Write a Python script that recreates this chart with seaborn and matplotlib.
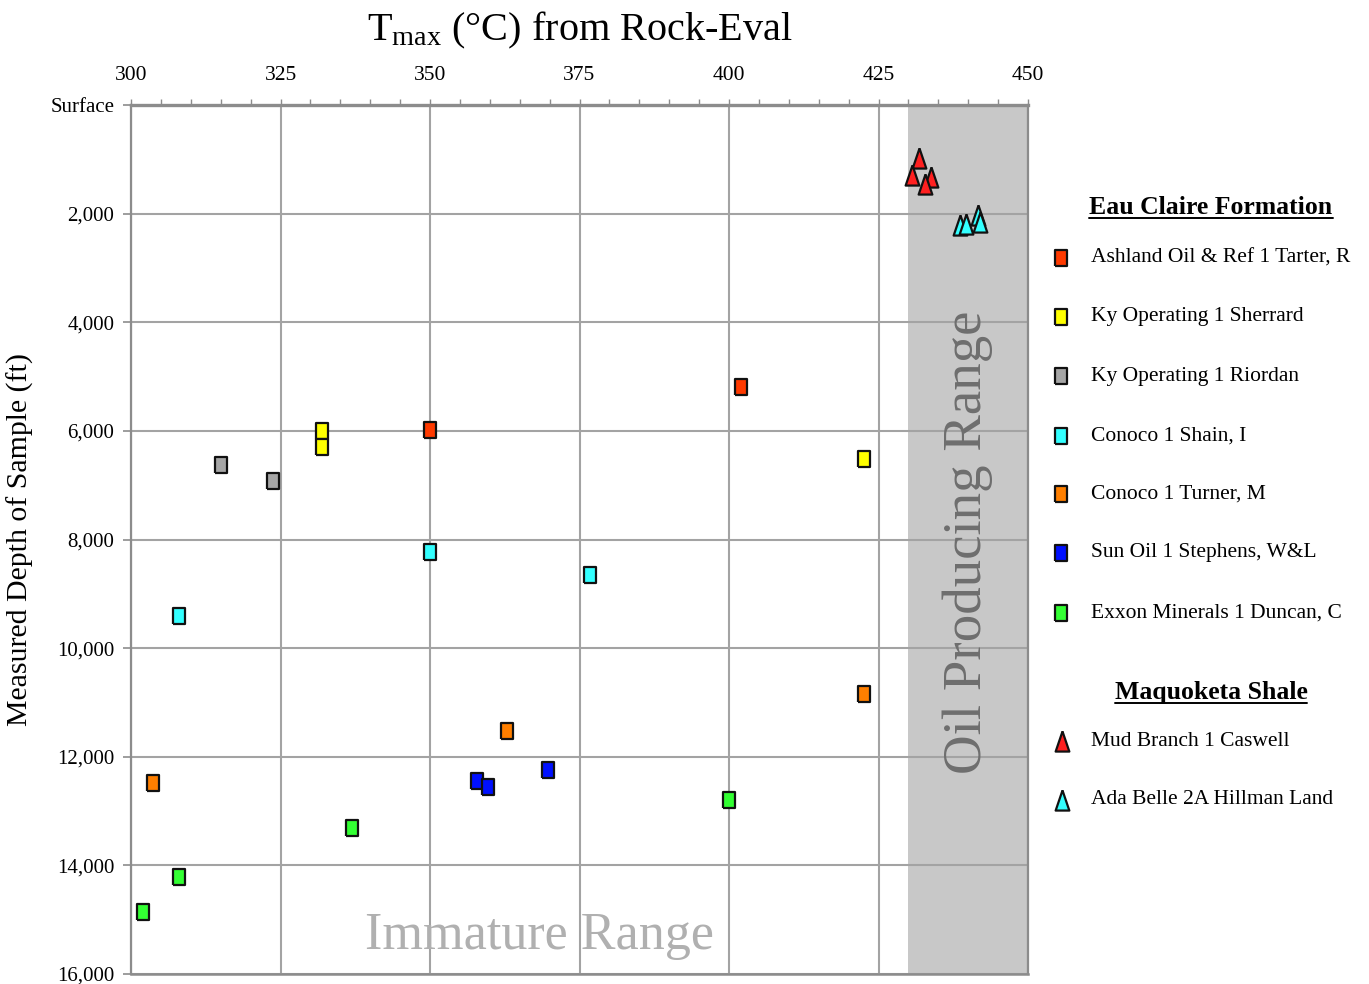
import numpy as np
import pandas as pd
import matplotlib
matplotlib.use("Agg")
import matplotlib.pyplot as plt
from matplotlib.lines import Line2D
from matplotlib.ticker import FixedLocator, MultipleLocator, FuncFormatter
import seaborn as sns

# ---- data: Tmax (deg C) vs. measured depth (ft) ----
ashland_tmax = [350.0, 402.0]
ashland_depth = [5990, 5200]
sherrard_tmax = [332.0, 332.0, 422.6]
sherrard_depth = [5995, 6290, 6515]
riordan_tmax = [315.0, 323.7]
riordan_depth = [6620, 6930]
shain_tmax = [308.0, 350.0, 376.7]
shain_depth = [9410, 8235, 8655]
turner_tmax = [303.7, 362.9, 422.6]
turner_depth = [12480, 11520, 10845]
sun_tmax = [357.8, 359.7, 369.7]
sun_depth = [12440, 12550, 12250]
duncan_tmax = [302.0, 308.0, 337.0, 400.0]
duncan_depth = [14865, 14210, 13305, 12800]
mud_tmax = [431.7, 430.6, 433.8, 432.7]
mud_depth = [970, 1290, 1330, 1450]
ada_tmax = [438.7, 439.7, 441.7, 442.0]
ada_depth = [2210, 2200, 2025, 2150]

eau_claire_wells = ["Ashland Oil & Ref 1 Tarter, R", "Ky Operating 1 Sherrard",
                    "Ky Operating 1 Riordan", "Conoco 1 Shain, I", "Conoco 1 Turner, M",
                    "Sun Oil 1 Stephens, W&L", "Exxon Minerals 1 Duncan, C"]
maquoketa_wells = ["Mud Branch 1 Caswell", "Ada Belle 2A Hillman Land"]

x_ticks = [300, 325, 350, 375, 400, 425, 450]
y_ticks = [0, 2000, 4000, 6000, 8000, 10000, 12000, 14000, 16000]
oil_window = (430, 450)

# ---- styles ----
sq_colors = ["#ff3a00", "#ffff00", "#a6a6a6", "#33ffff", "#ff7f00", "#0010ff", "#33ff33"]
tri_colors = ["#ff2020", "#33ffff"]
rect_marker = [(-0.7, -1), (0.7, -1), (0.7, 1), (-0.7, 1), (-0.7, -1)]
tri_marker = [(0, 1), (-0.68, -1), (0.68, -1), (0, 1)]
GRID = "#a3a3a3"
SPINE = "#8c8c8c"

sns.set_style("white")
plt.rcParams["font.family"] = ["Liberation Serif", "DejaVu Serif"]
plt.rcParams["mathtext.fontset"] = "custom"
plt.rcParams["mathtext.rm"] = "Liberation Serif"
plt.rcParams["mathtext.it"] = "Liberation Serif:italic"
plt.rcParams["text.color"] = "black"
plt.rcParams["axes.labelcolor"] = "black"
plt.rcParams["xtick.labelcolor"] = "black"
plt.rcParams["ytick.labelcolor"] = "black"

W, H = 1369, 984
fig = plt.figure(figsize=(W / 100, H / 100), dpi=100)
ax = fig.add_axes([131 / W, 1 - 974 / H, (1028 - 131) / W, (974 - 105) / H])

frames = []
series_sq = [(ashland_tmax, ashland_depth), (sherrard_tmax, sherrard_depth),
             (riordan_tmax, riordan_depth), (shain_tmax, shain_depth),
             (turner_tmax, turner_depth), (sun_tmax, sun_depth),
             (duncan_tmax, duncan_depth)]
for name, (t, d) in zip(eau_claire_wells, series_sq):
    frames.append(pd.DataFrame({"tmax": t, "depth": d, "well": name, "fm": "Eau Claire"}))
series_tri = [(mud_tmax, mud_depth), (ada_tmax, ada_depth)]
for name, (t, d) in zip(maquoketa_wells, series_tri):
    frames.append(pd.DataFrame({"tmax": t, "depth": d, "well": name, "fm": "Maquoketa"}))
df = pd.concat(frames, ignore_index=True)

# oil producing window
ax.axvspan(*oil_window, color="#c8c8c8", zorder=0.2, lw=0)

for name, col in zip(eau_claire_wells, sq_colors):
    sns.scatterplot(data=df[df["well"] == name], x="tmax", y="depth", ax=ax,
                    marker=rect_marker, s=140, color=col, edgecolor="#111111",
                    linewidth=1.6, zorder=3, legend=False)
for name, col in zip(maquoketa_wells, tri_colors):
    sns.scatterplot(data=df[df["well"] == name], x="tmax", y="depth", ax=ax,
                    marker=tri_marker, s=210, color=col, edgecolor="#111111",
                    linewidth=1.6, zorder=3, legend=False)

ax.set_xlim(300, 450)
ax.set_ylim(16000, 0)
ax.set_xlabel("")
ax.set_ylabel("Measured Depth of Sample (ft)", fontsize=21.5, labelpad=12)

# top x axis
ax.xaxis.tick_top()
ax.xaxis.set_major_locator(FixedLocator(x_ticks))
ax.xaxis.set_minor_locator(MultipleLocator(5))
ax.tick_params(axis="x", which="both", top=True, bottom=False, direction="out",
               length=4.5, width=1, color=SPINE, labelsize=15.5, pad=10)
ax.yaxis.set_major_locator(FixedLocator(y_ticks))
ax.yaxis.set_major_formatter(FuncFormatter(lambda v, p: "Surface" if v == 0 else f"{int(v):,}"))
ax.tick_params(axis="y", which="major", left=True, direction="out", length=6,
               width=1.2, color=SPINE, labelsize=15, pad=6)

ax.set_axisbelow(True)
ax.grid(True, which="major", color=GRID, lw=1.5)
ax.grid(False, which="minor")
for side, lw in [("top", 2.4), ("left", 1.6), ("bottom", 1.8), ("right", 1.6)]:
    ax.spines[side].set_visible(True)
    ax.spines[side].set_color(SPINE)
    ax.spines[side].set_linewidth(lw)

# annotations inside the plot
ax.text(440, 8050, "Oil Producing Range", rotation=90, ha="center", va="center",
        fontsize=39.5, color="#6e6e6e", zorder=2)
ax.text(368.3, 15300, "Immature Range", ha="center", va="center",
        fontsize=37.5, color="#b0b0b0", zorder=2)

# title above the top axis
fig.text(579.5 / W, 1 - 40 / H, r"T$_{\mathrm{max}}$ (°C) from Rock-Eval",
         ha="center", va="baseline", fontsize=29)

# ---- legend panel ----
def heading(text, cx, cy):
    t = fig.text(cx / W, 1 - cy / H, text, ha="center", va="center",
                 fontsize=18.5, fontweight="bold")
    return t

h1 = heading("Eau Claire Formation", 1211, 207)
h2 = heading("Maquoketa Shale", 1211, 692)

rows_sq = [258, 317, 376, 436, 494, 553, 613]
rows_tri = [741, 800]
for name, col, yy in zip(eau_claire_wells, sq_colors, rows_sq):
    fig.add_artist(Line2D([1061 / W], [1 - yy / H], transform=fig.transFigure,
                          marker=rect_marker, markersize=11.8, markerfacecolor=col,
                          markeredgecolor="#111111", markeredgewidth=1.6, linestyle="none"))
    fig.text(1091 / W, 1 - yy / H, name, ha="left", va="center", fontsize=15.5)
for name, col, yy in zip(maquoketa_wells, tri_colors, rows_tri):
    fig.add_artist(Line2D([1062 / W], [1 - yy / H], transform=fig.transFigure,
                          marker=tri_marker, markersize=14.5, markerfacecolor=col,
                          markeredgecolor="#111111", markeredgewidth=1.6, linestyle="none"))
    fig.text(1091 / W, 1 - yy / H, name, ha="left", va="center", fontsize=15.5)

# underline the headings
fig.canvas.draw()
renderer = fig.canvas.get_renderer()
for t in (h1, h2):
    bb = t.get_window_extent(renderer)
    yline = bb.y0 + 1
    fig.add_artist(Line2D([bb.x0 / W, bb.x1 / W], [yline / H, yline / H],
                          transform=fig.transFigure, color="black", lw=1.4))

fig.savefig("out.png", dpi=100)
